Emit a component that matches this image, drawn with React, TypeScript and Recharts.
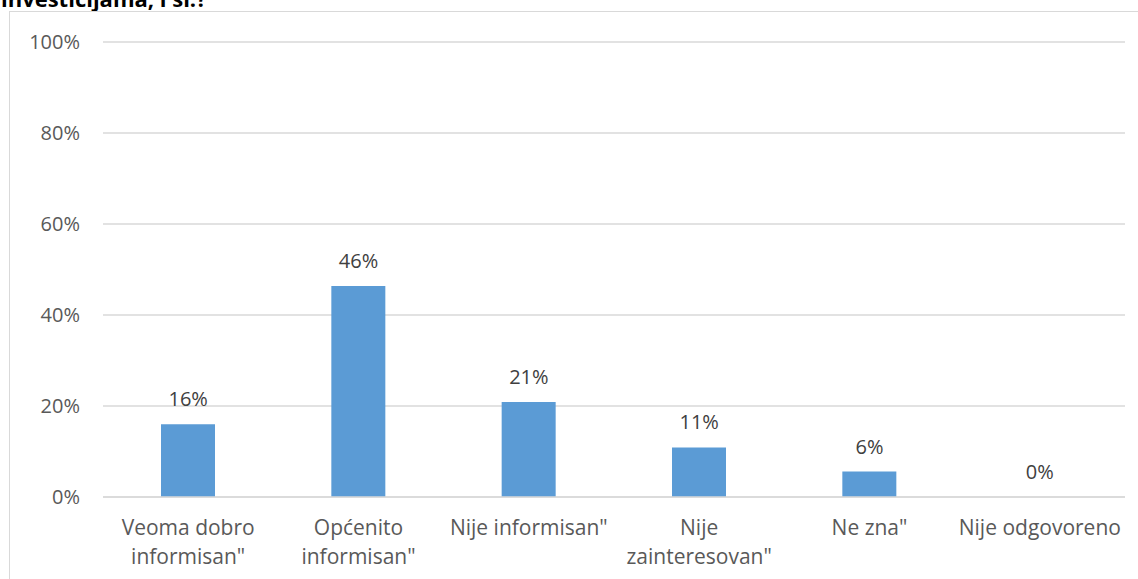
import { ComposedChart, Bar, Line, XAxis, YAxis, CartesianGrid, LabelList } from "recharts";

const categories = [
  "Veoma dobro\ninformisan\"",
  "Općenito\ninformisan\"",
  "Nije informisan\"",
  "Nije\nzainteresovan\"",
  "Ne zna\"",
  "Nije odgovoreno",
];
const values = [16, 46.4, 20.9, 10.9, 5.6, 0];
const labels = ["16%", "46%", "21%", "11%", "6%", "0%"];
const yTicks = [0, 20, 40, 60, 80, 100];

const data = categories.map((name, i) => ({ name, value: values[i], label: labels[i] }));

const FONT = "'Open Sans', sans-serif";

const XTick = (props: any) => {
  const { x, y, payload } = props;
  const lines = String(payload.value).split("\n");
  return (
    <text x={x} y={y} textAnchor="middle" fill="#595959" fontSize={21} fontFamily={FONT}>
      {lines.map((l, i) => (
        <tspan key={i} x={x} dy={i === 0 ? 30 : 29}>
          {l}
        </tspan>
      ))}
    </text>
  );
};

const TopLabel = (props: any) => {
  const { x, y, value } = props;
  return (
    <text x={x} y={y - 18} textAnchor="middle" fill="#404040" fontSize={20} fontFamily={FONT}>
      {value}
    </text>
  );
};

export default function App() {
  return (
    <div
      style={{
        position: "fixed",
        left: 0,
        top: 0,
        width: 1138,
        height: 579,
        background: "#fff",
        overflow: "hidden",
      }}
    >
      <div
        style={{
          position: "absolute",
          left: 1,
          top: -15,
          fontFamily: FONT,
          fontWeight: 700,
          fontSize: 22,
          lineHeight: "26px",
          color: "#000",
          whiteSpace: "nowrap",
        }}
      >
        investicijama, i sl.?
      </div>
      <div
        style={{
          position: "absolute",
          left: 9,
          top: 11,
          width: 1129,
          height: 568,
          borderLeft: "1.5px solid #d9d9d9",
          borderTop: "1.5px solid #d9d9d9",
          boxSizing: "border-box",
        }}
      >
        <ComposedChart
          width={1129}
          height={568}
          data={data}
          margin={{ top: 30, right: 14, bottom: 0, left: 0 }}
        >
          <CartesianGrid vertical={false} stroke="#d9d9d9" strokeWidth={1.3} />
          <XAxis
            dataKey="name"
            axisLine={{ stroke: "#d9d9d9", strokeWidth: 1.3 }}
            tickLine={false}
            height={83}
            interval={0}
            tick={<XTick />}
          />
          <YAxis
            domain={[0, 100]}
            ticks={yTicks}
            tickFormatter={(v: number) => `${v}%`}
            axisLine={false}
            tickLine={false}
            width={93}
            tickMargin={17}
            tick={{ fill: "#595959", fontSize: 20, fontFamily: FONT }}
          />
          <Bar dataKey="value" fill="#5b9bd5" barSize={54} isAnimationActive={false} />
          <Line
            dataKey="value"
            stroke="none"
            dot={false}
            activeDot={false}
            legendType="none"
            isAnimationActive={false}
          >
            <LabelList dataKey="label" content={<TopLabel />} />
          </Line>
        </ComposedChart>
      </div>
    </div>
  );
}
